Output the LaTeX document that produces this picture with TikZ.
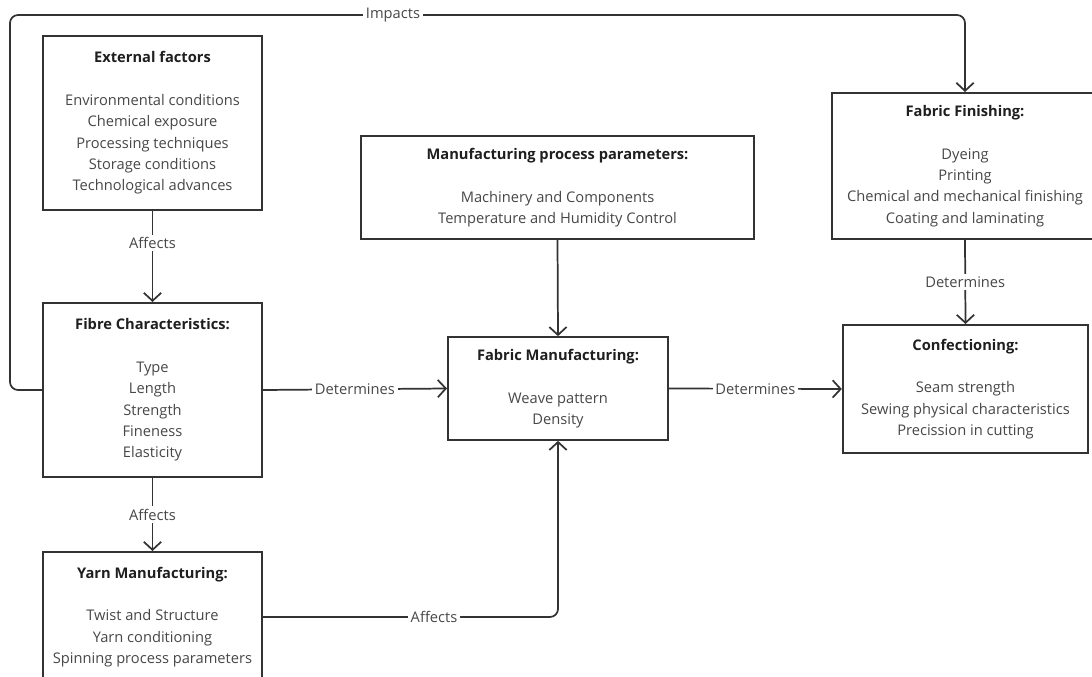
\documentclass[tikz,border=0pt]{standalone}
\usepackage{fontspec}
\setmainfont{Open Sans}
\usepackage{xcolor}
\usetikzlibrary{arrows.meta}

\definecolor{linegray}{HTML}{333333}
\definecolor{textgray}{HTML}{474747}
\definecolor{titlegray}{HTML}{1f1f1f}

\tikzset{
	box/.style={draw=linegray, line width=1.5pt, align=center, inner sep=0pt,
		text=textgray, font=\fontsize{11}{16}\selectfont},
	conn/.style={draw=linegray, line width=1.3pt, -{Straight Barb[length=6pt,width=13pt,line width=1.3pt]}},
	lbl/.style={fill=white, text=textgray, inner sep=2pt, font=\fontsize{11}{12}\selectfont}
}
\newcommand{\boxtitle}[1]{\textcolor{titlegray}{\textbf{#1}}\\[16pt]}

\begin{document}
\begin{tikzpicture}[x=0.75pt, y=-0.75pt]
				\clip (0, 0) rectangle (1092, 677);
				\fill[white] (0, 0) rectangle (1092, 677);
				% boxes
				\node[box, minimum width=164pt, minimum height=130.5pt] (ext) at (152.5, 123)
					{\boxtitle{External factors}Environmental conditions\\Chemical exposure\\Processing techniques\\Storage conditions\\Technological advances};
				\node[box, minimum width=164pt, minimum height=130.5pt] (fibre) at (152.5, 390)
					{\boxtitle{Fibre Characteristics:}Type\\Length\\Strength\\Fineness\\Elasticity};
				\node[box, minimum width=164pt, minimum height=97.5pt] (yarn) at (152.5, 617)
					{\boxtitle{Yarn Manufacturing:}Twist and Structure\\Yarn conditioning\\Spinning process parameters};
				\node[box, minimum width=295pt, minimum height=77pt] (params) at (557.5, 187.5)
					{\boxtitle{Manufacturing process parameters:}Machinery and Components\\Temperature and Humidity Control};
				\node[box, minimum width=165pt, minimum height=77pt] (fabric) at (558, 388.5)
					{\boxtitle{Fabric Manufacturing:}Weave pattern\\Density};
				\node[box, minimum width=200pt, minimum height=109.5pt] (finish) at (965, 166)
					{\boxtitle{Fabric Finishing:}Dyeing\\Printing\\Chemical and mechanical finishing\\Coating and laminating};
				\node[box, minimum width=184pt, minimum height=96pt] (conf) at (965.5, 389)
					{\boxtitle{Confectioning:}Seam strength\\Sewing physical characteristics\\Precission in cutting};
				% connectors
				\coordinate (topleft) at (10, 15);
				\draw[conn, rounded corners=6pt] (fibre.west) -| (topleft) -| (finish.north);
				\node[lbl] (impacts) at (393, 15) {Impacts};
				\draw[conn] (ext.south) -- node[lbl, pos=0.35] {Affects} (fibre.north);
				\draw[conn] (fibre.south) -- node[lbl] {Affects} (yarn.north);
				\draw[conn] (fibre.east) -- node[lbl] {Determines} (fabric.west);
				\draw[conn] (params.south) -- (fabric.north);
				\draw[conn] (fabric.east) -- node[lbl] {Determines} (conf.west);
				\draw[conn] (finish.south) -- node[lbl] {Determines} (conf.north);
				\draw[conn, rounded corners=6pt] (yarn.east) -- node[lbl, pos=0.58] {Affects} (fabric.south |- yarn.east) -- (fabric.south);
			\end{tikzpicture}
\end{document}
